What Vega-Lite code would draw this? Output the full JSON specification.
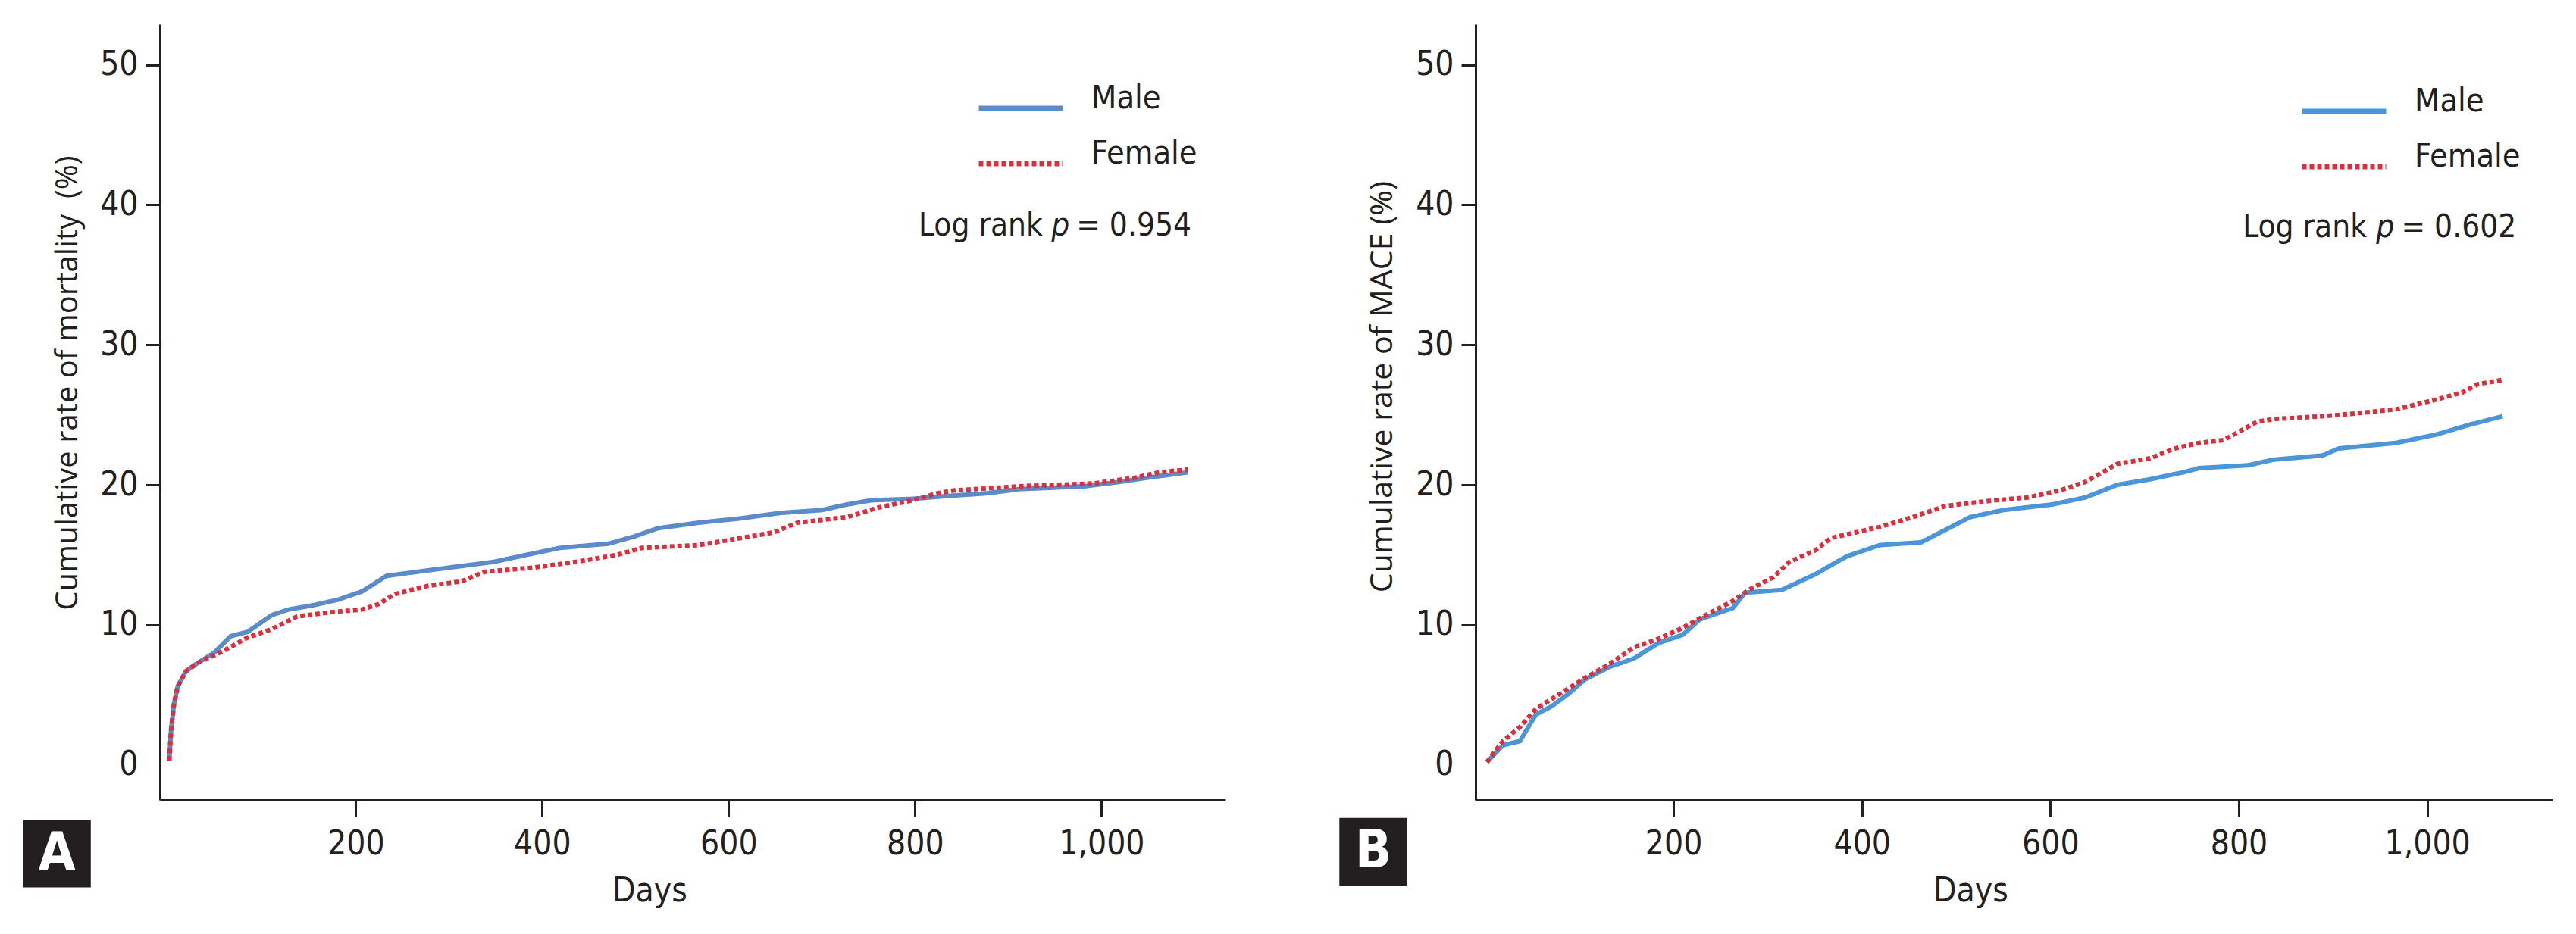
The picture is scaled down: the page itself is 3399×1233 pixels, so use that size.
{
  "$schema": "https://vega.github.io/schema/vega-lite/v6.json",
  "background": "white",
  "padding": {"left": 30, "top": 32, "right": 10, "bottom": 10},
  "spacing": 150,
  "config": {
    "view": {"stroke": null},
    "font": "'Liberation Sans Narrow', 'DejaVu Sans Condensed', 'Roboto Condensed', Roboto, sans-serif",
    "axis": {
      "grid": false,
      "domainColor": "#231f20", "domainWidth": 3,
      "tickColor": "#231f20", "tickWidth": 3,
      "labelColor": "#231f20", "labelFont": "'Liberation Sans Narrow', 'DejaVu Sans Condensed', 'Roboto Condensed', Roboto, sans-serif", "labelFontSize": 44,
      "titleColor": "#231f20", "titleFontWeight": "normal"
    },
    "legend": {
      "labelFont": "'Liberation Sans Narrow', 'DejaVu Sans Condensed', 'Roboto Condensed', Roboto, sans-serif", "labelFontSize": 43, "labelColor": "#231f20",
      "labelBaseline": "alphabetic", "labelOffset": 34,
      "symbolType": "stroke", "symbolStrokeWidth": 7, "symbolSize": 12321,
      "rowPadding": -76
    }
  },
  "resolve": {"scale": {"color": "independent", "strokeDash": "independent"}, "legend": {"color": "independent", "strokeDash": "independent"}},
  "datasets": {
    "mortality": [
      {"sex": "Male", "day": 0, "rate": 0.3}, {"sex": "Male", "day": 2, "rate": 2.5}, {"sex": "Male", "day": 5, "rate": 4.3}, {"sex": "Male", "day": 9, "rate": 5.6}, {"sex": "Male", "day": 18, "rate": 6.7}, {"sex": "Male", "day": 31, "rate": 7.3}, {"sex": "Male", "day": 48, "rate": 8.0}, {"sex": "Male", "day": 66, "rate": 9.2}, {"sex": "Male", "day": 84, "rate": 9.5}, {"sex": "Male", "day": 110, "rate": 10.7}, {"sex": "Male", "day": 128, "rate": 11.1}, {"sex": "Male", "day": 154, "rate": 11.4}, {"sex": "Male", "day": 181, "rate": 11.8}, {"sex": "Male", "day": 207, "rate": 12.4}, {"sex": "Male", "day": 233, "rate": 13.5}, {"sex": "Male", "day": 278, "rate": 13.9}, {"sex": "Male", "day": 313, "rate": 14.2}, {"sex": "Male", "day": 348, "rate": 14.5}, {"sex": "Male", "day": 383, "rate": 15.0}, {"sex": "Male", "day": 419, "rate": 15.5}, {"sex": "Male", "day": 471, "rate": 15.8}, {"sex": "Male", "day": 498, "rate": 16.3}, {"sex": "Male", "day": 524, "rate": 16.9}, {"sex": "Male", "day": 568, "rate": 17.3}, {"sex": "Male", "day": 612, "rate": 17.6}, {"sex": "Male", "day": 656, "rate": 18.0}, {"sex": "Male", "day": 700, "rate": 18.2}, {"sex": "Male", "day": 727, "rate": 18.6}, {"sex": "Male", "day": 753, "rate": 18.9}, {"sex": "Male", "day": 797, "rate": 19.0}, {"sex": "Male", "day": 833, "rate": 19.2}, {"sex": "Male", "day": 877, "rate": 19.4}, {"sex": "Male", "day": 912, "rate": 19.7}, {"sex": "Male", "day": 982, "rate": 19.9}, {"sex": "Male", "day": 1018, "rate": 20.2}, {"sex": "Male", "day": 1048, "rate": 20.5}, {"sex": "Male", "day": 1093, "rate": 20.9},
      {"sex": "Female", "day": 0, "rate": 0.3}, {"sex": "Female", "day": 2, "rate": 2.5}, {"sex": "Female", "day": 5, "rate": 4.3}, {"sex": "Female", "day": 9, "rate": 5.6}, {"sex": "Female", "day": 18, "rate": 6.7}, {"sex": "Female", "day": 31, "rate": 7.3}, {"sex": "Female", "day": 57, "rate": 8.1}, {"sex": "Female", "day": 84, "rate": 9.1}, {"sex": "Female", "day": 110, "rate": 9.7}, {"sex": "Female", "day": 137, "rate": 10.6}, {"sex": "Female", "day": 172, "rate": 10.9}, {"sex": "Female", "day": 207, "rate": 11.1}, {"sex": "Female", "day": 225, "rate": 11.5}, {"sex": "Female", "day": 242, "rate": 12.2}, {"sex": "Female", "day": 278, "rate": 12.8}, {"sex": "Female", "day": 313, "rate": 13.1}, {"sex": "Female", "day": 339, "rate": 13.8}, {"sex": "Female", "day": 392, "rate": 14.1}, {"sex": "Female", "day": 436, "rate": 14.5}, {"sex": "Female", "day": 480, "rate": 15.0}, {"sex": "Female", "day": 507, "rate": 15.5}, {"sex": "Female", "day": 568, "rate": 15.7}, {"sex": "Female", "day": 595, "rate": 16.0}, {"sex": "Female", "day": 648, "rate": 16.6}, {"sex": "Female", "day": 674, "rate": 17.3}, {"sex": "Female", "day": 727, "rate": 17.7}, {"sex": "Female", "day": 762, "rate": 18.4}, {"sex": "Female", "day": 797, "rate": 18.9}, {"sex": "Female", "day": 824, "rate": 19.4}, {"sex": "Female", "day": 841, "rate": 19.6}, {"sex": "Female", "day": 912, "rate": 19.9}, {"sex": "Female", "day": 991, "rate": 20.1}, {"sex": "Female", "day": 1035, "rate": 20.5}, {"sex": "Female", "day": 1062, "rate": 20.9}, {"sex": "Female", "day": 1093, "rate": 21.1}
    ],
    "mace": [
      {"sex": "Male", "day": 2, "rate": 0.2}, {"sex": "Male", "day": 19, "rate": 1.4}, {"sex": "Male", "day": 37, "rate": 1.7}, {"sex": "Male", "day": 54, "rate": 3.6}, {"sex": "Male", "day": 71, "rate": 4.2}, {"sex": "Male", "day": 89, "rate": 5.1}, {"sex": "Male", "day": 106, "rate": 6.1}, {"sex": "Male", "day": 132, "rate": 7.0}, {"sex": "Male", "day": 158, "rate": 7.6}, {"sex": "Male", "day": 184, "rate": 8.7}, {"sex": "Male", "day": 210, "rate": 9.3}, {"sex": "Male", "day": 228, "rate": 10.4}, {"sex": "Male", "day": 263, "rate": 11.2}, {"sex": "Male", "day": 276, "rate": 12.3}, {"sex": "Male", "day": 315, "rate": 12.5}, {"sex": "Male", "day": 350, "rate": 13.6}, {"sex": "Male", "day": 384, "rate": 14.9}, {"sex": "Male", "day": 419, "rate": 15.7}, {"sex": "Male", "day": 463, "rate": 15.9}, {"sex": "Male", "day": 489, "rate": 16.8}, {"sex": "Male", "day": 515, "rate": 17.7}, {"sex": "Male", "day": 550, "rate": 18.2}, {"sex": "Male", "day": 602, "rate": 18.6}, {"sex": "Male", "day": 637, "rate": 19.1}, {"sex": "Male", "day": 671, "rate": 20.0}, {"sex": "Male", "day": 706, "rate": 20.4}, {"sex": "Male", "day": 741, "rate": 20.9}, {"sex": "Male", "day": 758, "rate": 21.2}, {"sex": "Male", "day": 810, "rate": 21.4}, {"sex": "Male", "day": 837, "rate": 21.8}, {"sex": "Male", "day": 889, "rate": 22.1}, {"sex": "Male", "day": 906, "rate": 22.6}, {"sex": "Male", "day": 967, "rate": 23.0}, {"sex": "Male", "day": 1010, "rate": 23.6}, {"sex": "Male", "day": 1045, "rate": 24.3}, {"sex": "Male", "day": 1080, "rate": 24.9},
      {"sex": "Female", "day": 2, "rate": 0.2}, {"sex": "Female", "day": 19, "rate": 1.7}, {"sex": "Female", "day": 37, "rate": 2.7}, {"sex": "Female", "day": 54, "rate": 4.0}, {"sex": "Female", "day": 80, "rate": 5.1}, {"sex": "Female", "day": 106, "rate": 6.2}, {"sex": "Female", "day": 132, "rate": 7.2}, {"sex": "Female", "day": 158, "rate": 8.4}, {"sex": "Female", "day": 184, "rate": 9.0}, {"sex": "Female", "day": 210, "rate": 9.8}, {"sex": "Female", "day": 237, "rate": 10.8}, {"sex": "Female", "day": 263, "rate": 11.7}, {"sex": "Female", "day": 280, "rate": 12.5}, {"sex": "Female", "day": 306, "rate": 13.4}, {"sex": "Female", "day": 323, "rate": 14.5}, {"sex": "Female", "day": 350, "rate": 15.3}, {"sex": "Female", "day": 367, "rate": 16.2}, {"sex": "Female", "day": 393, "rate": 16.6}, {"sex": "Female", "day": 419, "rate": 17.0}, {"sex": "Female", "day": 454, "rate": 17.7}, {"sex": "Female", "day": 489, "rate": 18.5}, {"sex": "Female", "day": 541, "rate": 18.9}, {"sex": "Female", "day": 576, "rate": 19.1}, {"sex": "Female", "day": 610, "rate": 19.6}, {"sex": "Female", "day": 637, "rate": 20.2}, {"sex": "Female", "day": 671, "rate": 21.5}, {"sex": "Female", "day": 706, "rate": 21.9}, {"sex": "Female", "day": 732, "rate": 22.6}, {"sex": "Female", "day": 758, "rate": 23.0}, {"sex": "Female", "day": 784, "rate": 23.2}, {"sex": "Female", "day": 819, "rate": 24.5}, {"sex": "Female", "day": 837, "rate": 24.7}, {"sex": "Female", "day": 889, "rate": 24.9}, {"sex": "Female", "day": 924, "rate": 25.1}, {"sex": "Female", "day": 967, "rate": 25.4}, {"sex": "Female", "day": 1010, "rate": 26.1}, {"sex": "Female", "day": 1037, "rate": 26.6}, {"sex": "Female", "day": 1054, "rate": 27.2}, {"sex": "Female", "day": 1080, "rate": 27.5}
    ],
    "statA": [{"test": "Log rank", "p": "p", "value": "= 0.954", "panel": "A"}],
    "statB": [{"test": "Log rank", "p": "p", "value": "= 0.602", "panel": "B"}]
  },
  "hconcat": [
    {
      "width": 1406, "height": 1024,
      "layer": [
        {
          "data": {"name": "mortality"},
          "mark": {"type": "line", "strokeWidth": 6, "strokeCap": "butt"},
          "encoding": {
            "x": {"field": "day", "type": "quantitative", "scale": {"domain": [-10, 1133], "nice": false, "zero": false},
              "axis": {"values": [200, 400, 600, 800, 1000], "format": ",d", "title": "Days", "titleFont": "'Liberation Sans Narrow', 'DejaVu Sans Condensed', 'Roboto Condensed', Roboto, sans-serif", "titleFontSize": 44, "tickSize": 22, "labelPadding": 14, "titlePadding": 18, "titleX": 646}},
            "y": {"field": "rate", "type": "quantitative", "scale": {"domain": [-2.5, 52.9], "nice": false, "zero": false},
              "axis": {"values": [0, 10, 20, 30, 40, 50], "title": "Cumulative rate of mortality\u00a0 (%)", "titleFont": "Open Sans", "titleFontSize": 40, "tickSize": 19, "labelPadding": 10, "titlePadding": 22, "titleY": 473,
                "tickOpacity": {"condition": {"test": "datum.value === 0", "value": 0}, "value": 1}}},
            "color": {"field": "sex", "type": "nominal", "sort": ["Male", "Female"], "scale": {"domain": ["Male", "Female"], "range": ["#5b8bc9", "#d8303c"]},
              "legend": {"title": null, "orient": "none", "legendX": 1077, "legendY": 52}},
            "strokeDash": {"field": "sex", "type": "nominal", "sort": ["Male", "Female"], "scale": {"domain": ["Male", "Female"], "range": [[1, 0], [6, 4]]},
              "legend": {"title": null, "orient": "none", "legendX": 1077, "legendY": 52}}
          }
        },
        {
          "data": {"name": "statA"},
          "mark": {"type": "text", "align": "right", "baseline": "alphabetic", "fontSize": 42, "color": "#231f20"},
          "encoding": {"x": {"datum": 937}, "y": {"datum": 37.8}, "text": {"field": "test"}}
        },
        {
          "data": {"name": "statA"},
          "mark": {"type": "text", "align": "center", "baseline": "alphabetic", "fontSize": 42, "fontStyle": "italic", "color": "#231f20"},
          "encoding": {"x": {"datum": 956}, "y": {"datum": 37.8}, "text": {"field": "p"}}
        },
        {
          "data": {"name": "statA"},
          "mark": {"type": "text", "align": "left", "baseline": "alphabetic", "fontSize": 42, "color": "#231f20"},
          "encoding": {"x": {"datum": 973}, "y": {"datum": 37.8}, "text": {"field": "value"}}
        },
        {
          "data": {"name": "statA"},
          "mark": {"type": "point", "shape": "square", "filled": true, "size": 8000, "color": "#231f20", "opacity": 1},
          "encoding": {"x": {"datum": -120.5}, "y": {"datum": -6.33}}
        },
        {
          "data": {"name": "statA"},
          "mark": {"type": "text", "align": "center", "baseline": "middle", "fontSize": 70, "fontWeight": "bold", "color": "white"},
          "encoding": {"x": {"datum": -120.5}, "y": {"datum": -6.33}, "text": {"field": "panel"}}
        }
      ]
    },
    {
      "width": 1421, "height": 1024,
      "layer": [
        {
          "data": {"name": "mace"},
          "mark": {"type": "line", "strokeWidth": 6, "strokeCap": "butt"},
          "encoding": {
            "x": {"field": "day", "type": "quantitative", "scale": {"domain": [-10, 1133], "nice": false, "zero": false},
              "axis": {"values": [200, 400, 600, 800, 1000], "format": ",d", "title": "Days", "titleFont": "'Liberation Sans Narrow', 'DejaVu Sans Condensed', 'Roboto Condensed', Roboto, sans-serif", "titleFontSize": 44, "tickSize": 22, "labelPadding": 14, "titlePadding": 18, "titleX": 653}},
            "y": {"field": "rate", "type": "quantitative", "scale": {"domain": [-2.5, 52.9], "nice": false, "zero": false},
              "axis": {"values": [0, 10, 20, 30, 40, 50], "title": "Cumulative rate of MACE (%)", "titleFont": "Open Sans", "titleFontSize": 41, "tickSize": 19, "labelPadding": 10, "titlePadding": 22, "titleY": 478,
                "tickOpacity": {"condition": {"test": "datum.value === 0", "value": 0}, "value": 1}}},
            "color": {"field": "sex", "type": "nominal", "sort": ["Male", "Female"], "scale": {"domain": ["Male", "Female"], "range": ["#4a96d8", "#d8303c"]},
              "legend": {"title": null, "orient": "none", "legendX": 1087, "legendY": 56}},
            "strokeDash": {"field": "sex", "type": "nominal", "sort": ["Male", "Female"], "scale": {"domain": ["Male", "Female"], "range": [[1, 0], [6, 4]]},
              "legend": {"title": null, "orient": "none", "legendX": 1087, "legendY": 56}}
          }
        },
        {
          "data": {"name": "statB"},
          "mark": {"type": "text", "align": "right", "baseline": "alphabetic", "fontSize": 42, "color": "#231f20"},
          "encoding": {"x": {"datum": 936}, "y": {"datum": 37.7}, "text": {"field": "test"}}
        },
        {
          "data": {"name": "statB"},
          "mark": {"type": "text", "align": "center", "baseline": "alphabetic", "fontSize": 42, "fontStyle": "italic", "color": "#231f20"},
          "encoding": {"x": {"datum": 955.5}, "y": {"datum": 37.7}, "text": {"field": "p"}}
        },
        {
          "data": {"name": "statB"},
          "mark": {"type": "text", "align": "left", "baseline": "alphabetic", "fontSize": 42, "color": "#231f20"},
          "encoding": {"x": {"datum": 972.5}, "y": {"datum": 37.7}, "text": {"field": "value"}}
        },
        {
          "data": {"name": "statB"},
          "mark": {"type": "point", "shape": "square", "filled": true, "size": 8000, "color": "#231f20", "opacity": 1},
          "encoding": {"x": {"datum": -118.6}, "y": {"datum": -6.2}}
        },
        {
          "data": {"name": "statB"},
          "mark": {"type": "text", "align": "center", "baseline": "middle", "fontSize": 70, "fontWeight": "bold", "color": "white"},
          "encoding": {"x": {"datum": -118.6}, "y": {"datum": -6.2}, "text": {"field": "panel"}}
        }
      ]
    }
  ]
}
